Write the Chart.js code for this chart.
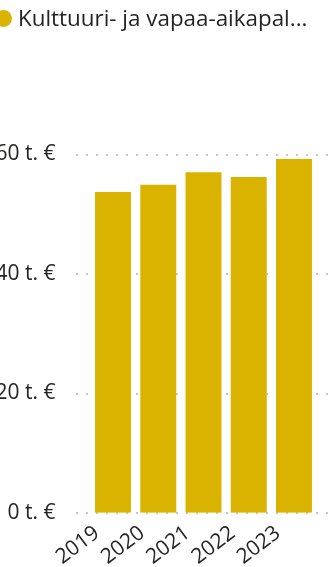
<!DOCTYPE html>
<html>
<head>
<meta charset="utf-8">
<script src="https://cdn.jsdelivr.net/npm/chart.js@4/dist/chart.umd.min.js"></script>
<style>
  html, body { margin: 0; padding: 0; background: #fff; overflow: hidden; }
  body { width: 334px; height: 567px; position: relative; font-family: "Segoe UI", "Open Sans", sans-serif; }
  #wrap { position: absolute; left: 0; top: 0; width: 334px; height: 567px; }
  #legend { position: absolute; left: 0; top: 0; width: 334px; height: 40px; white-space: nowrap; color: #252423; }
  #legend .dot { position: absolute; left: -5px; top: 9.5px; width: 17px; height: 17px; border-radius: 50%; }
  #legend .txt { position: absolute; left: 18px; top: 7.4px; font-size: 22.4px; line-height: 22.4px; }
</style>
</head>
<body>
<div id="wrap"><canvas id="c" width="334" height="567"></canvas></div>
<div id="legend"><span class="dot"></span><span class="txt"></span></div>
<script>
// Annual spending, thousands of euros
const years = ['2019', '2020', '2021', '2022', '2023'];
const spending = [53.7, 54.9, 57.0, 56.2, 59.2];
const yTicks = [0, 20, 40, 60];
const seriesName = 'Kulttuuri- ja vapaa-aikapal...';
const seriesColor = '#D9B300';
const textColor = '#252423';
const gridColor = '#C8C6C4';

document.querySelector('#legend .dot').style.background = seriesColor;
document.querySelector('#legend .txt').textContent = seriesName;

// Dotted horizontal gridlines that run a little past the plot area
const dottedGrid = {
  id: 'dottedGrid',
  beforeDatasetsDraw(chart) {
    const { ctx, chartArea, scales } = chart;
    const y = scales.y;
    ctx.save();
    ctx.fillStyle = gridColor;
    const x0 = Math.round(chartArea.left - 14.4);
    const x1 = chartArea.right + 11;
    y.ticks.forEach(t => {
      const py = Math.floor(y.getPixelForValue(t.value));
      for (let x = x0; x <= x1; x += 10) ctx.fillRect(x, py, 2, 2);
    });
    ctx.restore();
  }
};

const family = '"Segoe UI", "Open Sans", sans-serif';

new Chart(document.getElementById('c'), {
  type: 'bar',
  data: {
    labels: years,
    datasets: [{
      label: seriesName,
      data: spending,
      backgroundColor: seriesColor,
      borderWidth: 0,
      categoryPercentage: 1,
      barPercentage: 0.795
    }]
  },
  options: {
    responsive: false,
    devicePixelRatio: 1,
    animation: false,
    layout: { padding: { top: 154.3, right: 17.4, left: 0, bottom: 0 } },
    plugins: { legend: { display: false }, tooltip: { enabled: false } },
    scales: {
      x: {
        grid: { display: false, drawTicks: false },
        border: { display: false },
        ticks: {
          color: textColor,
          font: { family, size: 21 },
          autoSkip: false,
          minRotation: 37,
          maxRotation: 37,
          padding: 8,
          labelOffset: -16
        },
        afterFit(scale) { scale.height = 54.3; }
      },
      y: {
        min: 0,
        max: 60,
        afterBuildTicks(scale) { scale.ticks = yTicks.map(v => ({ value: v })); },
        grid: { display: false, drawTicks: false },
        border: { display: false },
        ticks: {
          color: textColor,
          font: { family, size: 21 },
          padding: 35,
          callback: v => v + ' t. €'
        },
        afterFit(scale) { scale.width = 90.4; }
      }
    }
  },
  plugins: [dottedGrid]
});
</script>
</body>
</html>
